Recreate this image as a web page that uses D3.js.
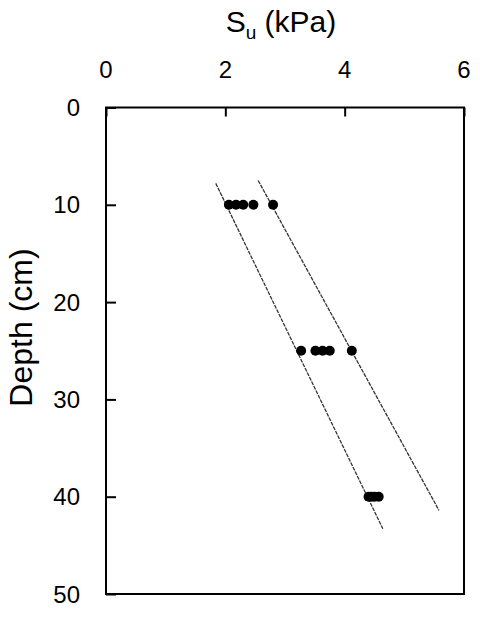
<!DOCTYPE html>
<html>
<head>
<meta charset="utf-8">
<script src="https://cdn.jsdelivr.net/npm/d3@7"></script>
<style>
  html, body { margin: 0; padding: 0; background: #fff; }
  .container { width: 480px; height: 619px; }
  text { font-family: "Liberation Sans", Arial, sans-serif; fill: #000; }
</style>
</head>
<body>
<div class="container"></div>
<script>
// data
var xTicks = [0, 2, 4, 6],
  yTicks = [0, 10, 20, 30, 40, 50];
var depths = [10, 25, 40];
var suAt10 = [2.06, 2.18, 2.3, 2.47, 2.8],
  suAt25 = [3.27, 3.51, 3.63, 3.75, 4.12],
  suAt40 = [4.4, 4.45, 4.5, 4.57];
// the two guide lines (su, depth at each end)
var lowerSu = [1.84, 4.64],
  lowerDepth = [7.8, 43.3],
  upperSu = [2.55, 5.58],
  upperDepth = [7.5, 41.4];

var svg = d3.select('.container')
  .append('svg')
  .attr('width', 480)
  .attr('height', 619);

// plot box in pixels
var boxLeft = 106, boxRight = 464, boxTop = 107.5, boxBottom = 594;

var x = d3.scaleLinear().domain([0, 6]).range([boxLeft, boxRight]);
var y = d3.scaleLinear().domain([0, 50]).range([boxTop, boxBottom]);

// build point list from the rows
var points = [];
[suAt10, suAt25, suAt40].forEach(function(row, i) {
  row.forEach(function(v) {
    points.push({ su: v, depth: depths[i] });
  });
});

// frame
svg.append('rect')
  .attr('x', x(0))
  .attr('y', y(0))
  .attr('width', x(6) - x(0))
  .attr('height', y(50) - y(0))
  .attr('fill', 'none')
  .attr('stroke', '#000')
  .attr('stroke-width', 2);

// top axis, ticks pointing into the plot
var xAxis = svg.append('g')
  .attr('transform', 'translate(0,' + y(0) + ')')
  .call(d3.axisBottom(x).tickValues(xTicks).tickSize(9).tickFormat(''));
xAxis.select('.domain').remove();
xAxis.selectAll('line').attr('stroke', '#000').attr('stroke-width', 2);

svg.append('g')
  .selectAll('text')
  .data(xTicks)
  .enter()
  .append('text')
  .attr('x', function(d) { return x(d); })
  .attr('y', 78)
  .attr('text-anchor', 'middle')
  .style('font-size', '24px')
  .text(function(d) { return d; });

// left axis, ticks pointing into the plot
var yAxis = svg.append('g')
  .attr('transform', 'translate(' + x(0) + ',0)')
  .call(d3.axisRight(y).tickValues(yTicks).tickSize(10).tickFormat(''));
yAxis.select('.domain').remove();
yAxis.selectAll('line').attr('stroke', '#000').attr('stroke-width', 2);

svg.append('g')
  .selectAll('text')
  .data(yTicks)
  .enter()
  .append('text')
  .attr('x', 80)
  .attr('y', function(d) { return y(d); })
  .attr('dy', '0.36em')
  .attr('text-anchor', 'end')
  .style('font-size', '24px')
  .text(function(d) { return d; });

// guide lines
var line = d3.line()
  .x(function(d) { return x(d[0]); })
  .y(function(d) { return y(d[1]); });

[[lowerSu, lowerDepth], [upperSu, upperDepth]].forEach(function(l) {
  svg.append('path')
    .datum(d3.zip(l[0], l[1]))
    .attr('d', line)
    .attr('fill', 'none')
    .attr('stroke', '#333')
    .attr('stroke-width', 1.3)
    .attr('stroke-dasharray', '4,1');
});

// points
svg.append('g')
  .selectAll('circle')
  .data(points)
  .enter()
  .append('circle')
  .attr('cx', function(d) { return x(d.su); })
  .attr('cy', function(d) { return y(d.depth); })
  .attr('r', 5)
  .attr('fill', '#000');

// axis titles
var title = svg.append('text')
  .attr('x', 281)
  .attr('y', 32)
  .attr('text-anchor', 'middle')
  .style('font-size', '30px');
title.append('tspan').text('S');
title.append('tspan').attr('dy', 7).style('font-size', '19px').text('u');
title.append('tspan').attr('dy', -7).text(' (kPa)');

svg.append('text')
  .attr('transform', 'translate(32,327.5) rotate(-90)')
  .attr('text-anchor', 'middle')
  .style('font-size', '32px')
  .text('Depth (cm)');
</script>
</body>
</html>
